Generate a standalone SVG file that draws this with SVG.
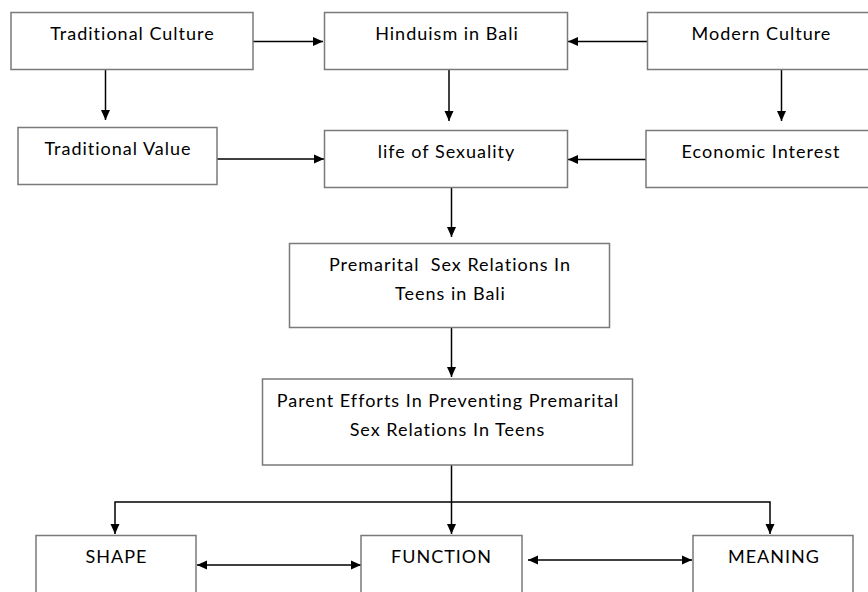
<svg xmlns="http://www.w3.org/2000/svg" width="868" height="592" viewBox="0 0 868 592">
<style>
.box{fill:#fff;stroke:#7a7a7a;stroke-width:1.5}
.lbl{font-family:Lato,"Open Sans","Liberation Sans",sans-serif;font-size:18px;letter-spacing:1px;font-variant-ligatures:none;fill:#000;text-anchor:middle;white-space:pre}
.c{fill:none;stroke:#000;stroke-width:1.5}
</style>
<defs>
<marker id="ah" viewBox="0 0 10 10" refX="10" refY="5" markerWidth="10" markerHeight="10" markerUnits="userSpaceOnUse" orient="auto-start-reverse">
<path d="M0,0.5 L10,5 L0,9.5 z" fill="#000"/>
</marker>
</defs>
<rect width="868" height="592" fill="#fff"/>
<g id="connectors">
<path class="c" d="M253 41.5 H323" marker-end="url(#ah)"/>
<path class="c" d="M647 41.5 H568" marker-end="url(#ah)"/>
<path class="c" d="M105.5 69 V120" marker-end="url(#ah)"/>
<path class="c" d="M449 69 V121" marker-end="url(#ah)"/>
<path class="c" d="M781.5 69 V121" marker-end="url(#ah)"/>
<path class="c" d="M217 159 H324" marker-end="url(#ah)"/>
<path class="c" d="M646 159.5 H568" marker-end="url(#ah)"/>
<path class="c" d="M451.5 187 V237" marker-end="url(#ah)"/>
<path class="c" d="M451.5 328 V377" marker-end="url(#ah)"/>
<path class="c" d="M451.5 465 V534" marker-end="url(#ah)"/>
<path class="c" d="M451.5 502 H115 V534" marker-end="url(#ah)"/>
<path class="c" d="M451.5 502 H770 V534" marker-end="url(#ah)"/>
<path class="c" d="M197 565 H361" marker-start="url(#ah)" marker-end="url(#ah)"/>
<path class="c" d="M528 560 H692" marker-start="url(#ah)" marker-end="url(#ah)"/>
</g>
<g id="traditional-culture">
<rect class="box" x="11" y="12.5" width="242" height="57"/>
<text class="lbl" x="132.5" y="40">Traditional Culture</text>
</g>
<g id="hinduism-in-bali">
<rect class="box" x="324.5" y="12.5" width="243" height="57"/>
<text class="lbl" x="447" y="40">Hinduism in Bali</text>
</g>
<g id="modern-culture">
<rect class="box" x="647.5" y="12.5" width="240" height="57"/>
<text class="lbl" x="761.5" y="40">Modern Culture</text>
</g>
<g id="traditional-value">
<rect class="box" x="18" y="127.5" width="199" height="57"/>
<text class="lbl" x="118" y="155">Traditional Value</text>
</g>
<g id="life-of-sexuality">
<rect class="box" x="324.5" y="130.5" width="243" height="57"/>
<text class="lbl" x="446.5" y="157.5">life of Sexuality</text>
</g>
<g id="economic-interest">
<rect class="box" x="646" y="130.5" width="240" height="57"/>
<text class="lbl" x="761" y="157.5">Economic Interest</text>
</g>
<g id="premarital-sex-relations">
<rect class="box" x="289.5" y="243.5" width="320" height="84"/>
<text class="lbl" x="450" y="270.5">Premarital  Sex Relations In</text>
<text class="lbl" x="450.5" y="300">Teens in Bali</text>
</g>
<g id="parent-efforts">
<rect class="box" x="262.5" y="379" width="370" height="86"/>
<text class="lbl" x="448" y="406.5">Parent Efforts In Preventing Premarital</text>
<text class="lbl" x="447.5" y="435.5">Sex Relations In Teens</text>
</g>
<g id="shape">
<rect class="box" x="36" y="535.5" width="160" height="70"/>
<text class="lbl" x="116.5" y="562.5">SHAPE</text>
</g>
<g id="function">
<rect class="box" x="361" y="535.5" width="161" height="70"/>
<text class="lbl" x="441.5" y="562.5">FUNCTION</text>
</g>
<g id="meaning">
<rect class="box" x="693" y="535.5" width="160" height="70"/>
<text class="lbl" x="774" y="562.5">MEANING</text>
</g>
</svg>
